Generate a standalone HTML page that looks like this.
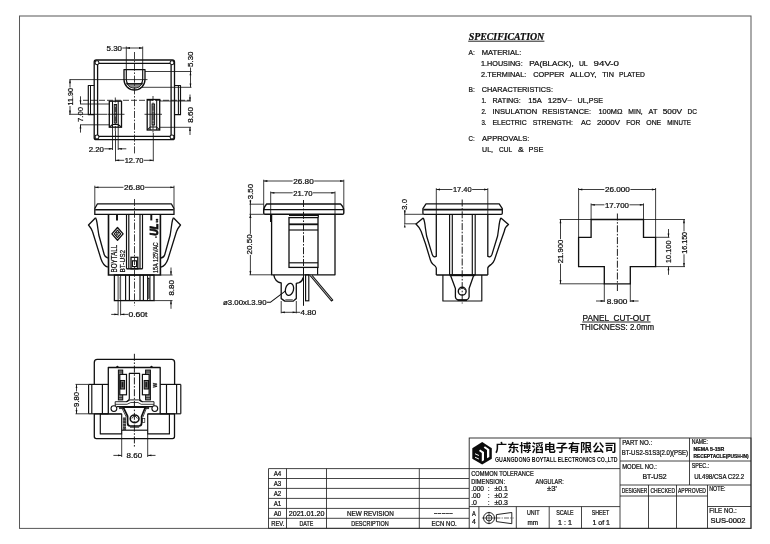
<!DOCTYPE html>
<html lang="zh"><head><meta charset="utf-8"><title>BT-US2 NEMA 5-15R Receptacle Drawing</title>
<style>
html,body{margin:0;padding:0;background:#fff;}
body{width:770px;height:544px;overflow:hidden;}
svg{display:block;font-family:"Liberation Sans","Noto Sans CJK SC",sans-serif;filter:grayscale(1);}
svg text{stroke:#101010;stroke-width:0.24px;}
</style></head><body>
<svg width="770" height="544" viewBox="0 0 770 544">
<rect x="0" y="0" width="770" height="544" fill="#ffffff"/>
<rect x="19.50" y="16.00" width="731.50" height="512.40" stroke="#585858" stroke-width="1.01" fill="none"/>
<line x1="268.5" y1="468.6" x2="469" y2="468.6" stroke="#262626" stroke-width="0.86"/>
<line x1="268.5" y1="478.5" x2="469" y2="478.5" stroke="#262626" stroke-width="0.86"/>
<line x1="268.5" y1="488.4" x2="469" y2="488.4" stroke="#262626" stroke-width="0.86"/>
<line x1="268.5" y1="498.4" x2="469" y2="498.4" stroke="#262626" stroke-width="0.86"/>
<line x1="268.5" y1="508.4" x2="469" y2="508.4" stroke="#262626" stroke-width="0.86"/>
<line x1="268.5" y1="518.3" x2="469" y2="518.3" stroke="#262626" stroke-width="0.86"/>
<line x1="268.5" y1="528.3" x2="469" y2="528.3" stroke="#262626" stroke-width="0.86"/>
<line x1="268.5" y1="468.6" x2="268.5" y2="528.3" stroke="#262626" stroke-width="0.86"/>
<line x1="286.5" y1="468.6" x2="286.5" y2="528.3" stroke="#262626" stroke-width="0.86"/>
<line x1="326.5" y1="468.6" x2="326.5" y2="528.3" stroke="#262626" stroke-width="0.86"/>
<line x1="419.3" y1="468.6" x2="419.3" y2="528.3" stroke="#262626" stroke-width="0.86"/>
<text x="273.7" y="476" font-size="6.9" fill="#101010" xml:space="preserve" textLength="7.60" lengthAdjust="spacingAndGlyphs">A4</text>
<text x="273.7" y="486" font-size="6.9" fill="#101010" xml:space="preserve" textLength="7.60" lengthAdjust="spacingAndGlyphs">A3</text>
<text x="273.7" y="496" font-size="6.9" fill="#101010" xml:space="preserve" textLength="7.60" lengthAdjust="spacingAndGlyphs">A2</text>
<text x="273.7" y="506" font-size="6.9" fill="#101010" xml:space="preserve" textLength="7.60" lengthAdjust="spacingAndGlyphs">A1</text>
<text x="273.7" y="516" font-size="6.9" fill="#101010" xml:space="preserve" textLength="7.60" lengthAdjust="spacingAndGlyphs">A0</text>
<text x="271.2" y="526" font-size="6.9" fill="#101010" xml:space="preserve" textLength="13.20" lengthAdjust="spacingAndGlyphs">REV.</text>
<text x="288.7" y="516" font-size="6.9" fill="#101010" xml:space="preserve" textLength="35.80" lengthAdjust="spacingAndGlyphs">2021.01.20</text>
<text x="299.5" y="526" font-size="6.9" fill="#101010" xml:space="preserve" textLength="13.80" lengthAdjust="spacingAndGlyphs">DATE</text>
<text x="347" y="516" font-size="6.9" fill="#101010" xml:space="preserve" textLength="46.80" lengthAdjust="spacingAndGlyphs">NEW REVISION</text>
<text x="351.2" y="526" font-size="6.9" fill="#101010" xml:space="preserve" textLength="37.60" lengthAdjust="spacingAndGlyphs">DESCRIPTION</text>
<text x="433.7" y="515.2" font-size="6.9" fill="#101010" xml:space="preserve" textLength="19.30" lengthAdjust="spacingAndGlyphs">-----</text>
<text x="431.5" y="525.8" font-size="6.9" fill="#101010" xml:space="preserve" textLength="25.30" lengthAdjust="spacingAndGlyphs">ECN NO.</text>
<rect x="469.20" y="438.00" width="281.80" height="90.30" stroke="#262626" stroke-width="0.92" fill="none"/>
<line x1="469" y1="468.6" x2="620" y2="468.6" stroke="#262626" stroke-width="0.86"/>
<line x1="469" y1="506.6" x2="620" y2="506.6" stroke="#262626" stroke-width="0.86"/>
<line x1="620" y1="438" x2="620" y2="528.3" stroke="#262626" stroke-width="0.86"/>
<line x1="478.9" y1="506.6" x2="478.9" y2="528.3" stroke="#262626" stroke-width="0.86"/>
<line x1="516.3" y1="506.6" x2="516.3" y2="528.3" stroke="#262626" stroke-width="0.86"/>
<line x1="549.2" y1="506.6" x2="549.2" y2="528.3" stroke="#262626" stroke-width="0.86"/>
<line x1="581.5" y1="506.6" x2="581.5" y2="528.3" stroke="#262626" stroke-width="0.86"/>
<line x1="620" y1="461" x2="751" y2="461" stroke="#262626" stroke-width="0.86"/>
<line x1="620" y1="485" x2="751" y2="485" stroke="#262626" stroke-width="0.86"/>
<line x1="689.5" y1="438" x2="689.5" y2="485" stroke="#262626" stroke-width="0.86"/>
<line x1="620" y1="496" x2="707.5" y2="496" stroke="#262626" stroke-width="0.86"/>
<line x1="648.5" y1="485" x2="648.5" y2="528.3" stroke="#262626" stroke-width="0.86"/>
<line x1="676.5" y1="485" x2="676.5" y2="528.3" stroke="#262626" stroke-width="0.86"/>
<line x1="707.5" y1="485" x2="707.5" y2="528.3" stroke="#262626" stroke-width="0.86"/>
<line x1="707.5" y1="506.5" x2="751" y2="506.5" stroke="#262626" stroke-width="0.86"/>
<polygon points="482.2,442.1 491.8,448.2 491.8,458.7 482.2,464.5 472.3,458.7 472.3,448.2" fill="#0b0b0b"/>
<polygon points="479.0,450.9 480.1,449.4 484.0,452.0 484.0,460.2 481.8,461.5 481.8,453.0" fill="#fff"/>
<polygon points="483.7,447.7 484.9,446.2 489.3,449.3 489.3,457.0 487.0,458.3 487.0,450.1" fill="#fff"/>
<polygon points="475.0,453.3 478.9,455.1 478.9,456.1 475.0,454.3" fill="#fff"/>
<polygon points="475.0,456.7 478.9,458.6 478.9,459.6 475.0,457.7" fill="#fff"/>
<text x="495" y="452.3" font-size="11.6" fill="#0b0b0b" xml:space="preserve" textLength="121.60" lengthAdjust="spacingAndGlyphs" font-weight="bold" font-family="'Liberation Sans','Noto Sans CJK SC',sans-serif" style="stroke:none">广东博滔电子有限公司</text>
<text x="495" y="461.7" font-size="6.3" fill="#0b0b0b" xml:space="preserve" textLength="122.60" lengthAdjust="spacingAndGlyphs" font-weight="bold" style="stroke:none">GUANGDONG BOYTALL ELECTRONICS CO.,LTD</text>
<text x="471.2" y="475.6" font-size="6.9" fill="#101010" xml:space="preserve" textLength="62.50" lengthAdjust="spacingAndGlyphs">COMMON TOLERANCE</text>
<text x="471.2" y="483.9" font-size="6.9" fill="#101010" xml:space="preserve" textLength="33.80" lengthAdjust="spacingAndGlyphs">DIMENSION:</text>
<text x="535.5" y="483.9" font-size="6.9" fill="#101010" xml:space="preserve" textLength="28.20" lengthAdjust="spacingAndGlyphs">ANGULAR:</text>
<text x="471.2" y="491.3" font-size="6.9" fill="#101010" xml:space="preserve" textLength="12.80" lengthAdjust="spacingAndGlyphs">.000</text>
<text x="487.8" y="491.3" font-size="6.9" fill="#101010" xml:space="preserve">:</text>
<text x="494.5" y="491.3" font-size="6.9" fill="#101010" xml:space="preserve" textLength="13.50" lengthAdjust="spacingAndGlyphs">±0.1</text>
<text x="547" y="491.3" font-size="6.9" fill="#101010" xml:space="preserve" textLength="10.00" lengthAdjust="spacingAndGlyphs">±3'</text>
<text x="471.2" y="498.2" font-size="6.9" fill="#101010" xml:space="preserve" textLength="9.30" lengthAdjust="spacingAndGlyphs">.00</text>
<text x="487.8" y="498.2" font-size="6.9" fill="#101010" xml:space="preserve">:</text>
<text x="494.5" y="498.2" font-size="6.9" fill="#101010" xml:space="preserve" textLength="13.50" lengthAdjust="spacingAndGlyphs">±0.2</text>
<text x="471.2" y="505.1" font-size="6.9" fill="#101010" xml:space="preserve" textLength="5.80" lengthAdjust="spacingAndGlyphs">.0</text>
<text x="487.8" y="505.1" font-size="6.9" fill="#101010" xml:space="preserve">:</text>
<text x="494.5" y="505.1" font-size="6.9" fill="#101010" xml:space="preserve" textLength="13.50" lengthAdjust="spacingAndGlyphs">±0.3</text>
<text x="472" y="516" font-size="6.9" fill="#101010" xml:space="preserve" textLength="3.80" lengthAdjust="spacingAndGlyphs">A</text>
<text x="472" y="523.6" font-size="6.9" fill="#101010" xml:space="preserve" textLength="3.80" lengthAdjust="spacingAndGlyphs">4</text>
<circle cx="489" cy="518" r="5.5" stroke="#101010" stroke-width="0.91" fill="none"/>
<circle cx="489" cy="518" r="2.9" stroke="#101010" stroke-width="0.91" fill="none"/>
<line x1="481.9" y1="518" x2="495.2" y2="518" stroke="#101010" stroke-width="0.65"/>
<line x1="489" y1="511.8" x2="489" y2="524.2" stroke="#101010" stroke-width="0.65"/>
<path d="M496.4,514.6 L511.8,512.5 L511.8,523.7 L496.4,521.6 Z" stroke="#101010" stroke-width="0.91" fill="none" stroke-linejoin="round"/>
<line x1="495.4" y1="518" x2="513.6" y2="518" stroke="#101010" stroke-width="0.65" stroke-dasharray="5 1.2 1.2 1.2"/>
<text x="527" y="515" font-size="6.9" fill="#101010" xml:space="preserve" textLength="12.50" lengthAdjust="spacingAndGlyphs">UNIT</text>
<text x="527.5" y="525" font-size="6.9" fill="#101010" xml:space="preserve" textLength="10.50" lengthAdjust="spacingAndGlyphs">mm</text>
<text x="556.2" y="515" font-size="6.9" fill="#101010" xml:space="preserve" textLength="17.50" lengthAdjust="spacingAndGlyphs">SCALE</text>
<text x="558" y="525" font-size="6.9" fill="#101010" xml:space="preserve" textLength="14.00" lengthAdjust="spacingAndGlyphs">1 : 1</text>
<text x="591.7" y="515" font-size="6.9" fill="#101010" xml:space="preserve" textLength="17.50" lengthAdjust="spacingAndGlyphs">SHEET</text>
<text x="592.5" y="525" font-size="6.9" fill="#101010" xml:space="preserve" textLength="17.50" lengthAdjust="spacingAndGlyphs">1 of 1</text>
<text x="622.2" y="445" font-size="6.9" fill="#101010" xml:space="preserve" textLength="30.00" lengthAdjust="spacingAndGlyphs">PART NO.:</text>
<text x="621.7" y="455.3" font-size="6.9" fill="#101010" xml:space="preserve" textLength="66.30" lengthAdjust="spacingAndGlyphs">BT-US2-S1S3(2.0)(PSE)</text>
<text x="691.7" y="444.3" font-size="6.9" fill="#101010" xml:space="preserve" textLength="16.30" lengthAdjust="spacingAndGlyphs">NAME:</text>
<text x="693.5" y="451.1" font-size="4.9" fill="#101010" xml:space="preserve" textLength="30.70" lengthAdjust="spacingAndGlyphs" font-weight="bold">NEMA 5-15R</text>
<text x="693.5" y="457.6" font-size="4.9" fill="#101010" xml:space="preserve" textLength="55.20" lengthAdjust="spacingAndGlyphs" font-weight="bold">RECEPTACLE(PUSH-IN)</text>
<text x="622.2" y="469.3" font-size="6.9" fill="#101010" xml:space="preserve" textLength="34.60" lengthAdjust="spacingAndGlyphs">MODEL NO.:</text>
<text x="642.5" y="478.8" font-size="6.9" fill="#101010" xml:space="preserve" textLength="24.20" lengthAdjust="spacingAndGlyphs">BT-US2</text>
<text x="691.7" y="468" font-size="6.9" fill="#101010" xml:space="preserve" textLength="17.50" lengthAdjust="spacingAndGlyphs">SPEC.:</text>
<text x="694.2" y="478.5" font-size="6.9" fill="#101010" xml:space="preserve" textLength="50.00" lengthAdjust="spacingAndGlyphs">UL498/CSA C22.2</text>
<text x="621.7" y="493" font-size="6.9" fill="#101010" xml:space="preserve" textLength="25.50" lengthAdjust="spacingAndGlyphs">DESIGNER</text>
<text x="650.5" y="493" font-size="6.9" fill="#101010" xml:space="preserve" textLength="24.50" lengthAdjust="spacingAndGlyphs">CHECKED</text>
<text x="678" y="493" font-size="6.9" fill="#101010" xml:space="preserve" textLength="28.00" lengthAdjust="spacingAndGlyphs">APPROVED</text>
<text x="709.2" y="491.3" font-size="6.9" fill="#101010" xml:space="preserve" textLength="16.30" lengthAdjust="spacingAndGlyphs">NOTE:</text>
<text x="709.2" y="512.6" font-size="6.9" fill="#101010" xml:space="preserve" textLength="27.50" lengthAdjust="spacingAndGlyphs">FILE NO.:</text>
<text x="710.5" y="523" font-size="6.9" fill="#101010" xml:space="preserve" textLength="35.00" lengthAdjust="spacingAndGlyphs">SUS-0002</text>
<text x="468.7" y="39.6" font-size="10.3" fill="#0b0b0b" xml:space="preserve" textLength="75.50" lengthAdjust="spacingAndGlyphs" font-weight="bold" font-style="italic" font-family="'Liberation Serif',serif">SPECIFICATION</text>
<line x1="468.2" y1="41.2" x2="544.4" y2="41.2" stroke="#0b0b0b" stroke-width="0.91"/>
<text x="468.5" y="54.5" font-size="7.9" fill="#101010" xml:space="preserve" textLength="6.30" lengthAdjust="spacingAndGlyphs">A:</text>
<text x="481.8" y="54.5" font-size="7.9" fill="#101010" xml:space="preserve" textLength="39.50" lengthAdjust="spacingAndGlyphs">MATERIAL:</text>
<text x="481.1" y="65.8" font-size="7.9" fill="#101010" xml:space="preserve" textLength="41.60" lengthAdjust="spacingAndGlyphs">1.HOUSING:</text>
<text x="529.3" y="65.8" font-size="7.9" fill="#101010" xml:space="preserve" textLength="44.40" lengthAdjust="spacingAndGlyphs">PA(BLACK),</text>
<text x="578.9" y="65.8" font-size="7.9" fill="#101010" xml:space="preserve" textLength="8.80" lengthAdjust="spacingAndGlyphs">UL</text>
<text x="593.6" y="65.8" font-size="7.9" fill="#101010" xml:space="preserve" textLength="25.40" lengthAdjust="spacingAndGlyphs">94V-0</text>
<text x="481.1" y="77.2" font-size="7.9" fill="#101010" xml:space="preserve" textLength="45.20" lengthAdjust="spacingAndGlyphs">2.TERMINAL:</text>
<text x="533.3" y="77.2" font-size="7.9" fill="#101010" xml:space="preserve" textLength="31.10" lengthAdjust="spacingAndGlyphs">COPPER</text>
<text x="570" y="77.2" font-size="7.9" fill="#101010" xml:space="preserve" textLength="26.40" lengthAdjust="spacingAndGlyphs">ALLOY,</text>
<text x="602.2" y="77.2" font-size="7.9" fill="#101010" xml:space="preserve" textLength="11.70" lengthAdjust="spacingAndGlyphs">TIN</text>
<text x="619" y="77.2" font-size="7.9" fill="#101010" xml:space="preserve" textLength="25.80" lengthAdjust="spacingAndGlyphs">PLATED</text>
<text x="468.5" y="91.8" font-size="7.9" fill="#101010" xml:space="preserve" textLength="6.30" lengthAdjust="spacingAndGlyphs">B:</text>
<text x="481.8" y="91.8" font-size="7.9" fill="#101010" xml:space="preserve" textLength="71.20" lengthAdjust="spacingAndGlyphs">CHARACTERISTICS:</text>
<text x="481.4" y="102.8" font-size="7.9" fill="#101010" xml:space="preserve" textLength="5.10" lengthAdjust="spacingAndGlyphs">1.</text>
<text x="492.4" y="102.8" font-size="7.9" fill="#101010" xml:space="preserve" textLength="28.40" lengthAdjust="spacingAndGlyphs">RATING:</text>
<text x="528.3" y="102.8" font-size="7.9" fill="#101010" xml:space="preserve" textLength="13.40" lengthAdjust="spacingAndGlyphs">15A</text>
<text x="547.7" y="102.8" font-size="7.9" fill="#101010" xml:space="preserve" textLength="24.50" lengthAdjust="spacingAndGlyphs">125V~</text>
<text x="577.6" y="102.8" font-size="7.9" fill="#101010" xml:space="preserve" textLength="25.40" lengthAdjust="spacingAndGlyphs">UL,PSE</text>
<text x="481.4" y="113.8" font-size="7.9" fill="#101010" xml:space="preserve" textLength="5.10" lengthAdjust="spacingAndGlyphs">2.</text>
<text x="492.4" y="113.8" font-size="7.9" fill="#101010" xml:space="preserve" textLength="44.80" lengthAdjust="spacingAndGlyphs">INSULATION</text>
<text x="542.3" y="113.8" font-size="7.9" fill="#101010" xml:space="preserve" textLength="48.70" lengthAdjust="spacingAndGlyphs">RESISTANCE:</text>
<text x="598.5" y="113.8" font-size="7.9" fill="#101010" xml:space="preserve" textLength="23.90" lengthAdjust="spacingAndGlyphs">100MΩ</text>
<text x="628.3" y="113.8" font-size="7.9" fill="#101010" xml:space="preserve" textLength="14.40" lengthAdjust="spacingAndGlyphs">MIN,</text>
<text x="648.6" y="113.8" font-size="7.9" fill="#101010" xml:space="preserve" textLength="8.70" lengthAdjust="spacingAndGlyphs">AT</text>
<text x="662.7" y="113.8" font-size="7.9" fill="#101010" xml:space="preserve" textLength="19.40" lengthAdjust="spacingAndGlyphs">500V</text>
<text x="687.5" y="113.8" font-size="7.9" fill="#101010" xml:space="preserve" textLength="9.50" lengthAdjust="spacingAndGlyphs">DC</text>
<text x="481.4" y="125" font-size="7.9" fill="#101010" xml:space="preserve" textLength="5.10" lengthAdjust="spacingAndGlyphs">3.</text>
<text x="492.4" y="125" font-size="7.9" fill="#101010" xml:space="preserve" textLength="34.40" lengthAdjust="spacingAndGlyphs">ELECTRIC</text>
<text x="532.7" y="125" font-size="7.9" fill="#101010" xml:space="preserve" textLength="40.30" lengthAdjust="spacingAndGlyphs">STRENGTH:</text>
<text x="581" y="125" font-size="7.9" fill="#101010" xml:space="preserve" textLength="10.00" lengthAdjust="spacingAndGlyphs">AC</text>
<text x="597" y="125" font-size="7.9" fill="#101010" xml:space="preserve" textLength="23.00" lengthAdjust="spacingAndGlyphs">2000V</text>
<text x="626.2" y="125" font-size="7.9" fill="#101010" xml:space="preserve" textLength="14.10" lengthAdjust="spacingAndGlyphs">FOR</text>
<text x="646.3" y="125" font-size="7.9" fill="#101010" xml:space="preserve" textLength="14.90" lengthAdjust="spacingAndGlyphs">ONE</text>
<text x="667.2" y="125" font-size="7.9" fill="#101010" xml:space="preserve" textLength="23.80" lengthAdjust="spacingAndGlyphs">MINUTE</text>
<text x="468.6" y="140.8" font-size="7.9" fill="#101010" xml:space="preserve" textLength="6.20" lengthAdjust="spacingAndGlyphs">C:</text>
<text x="482.1" y="140.8" font-size="7.9" fill="#101010" xml:space="preserve" textLength="47.20" lengthAdjust="spacingAndGlyphs">APPROVALS:</text>
<text x="482.1" y="152.1" font-size="7.9" fill="#101010" xml:space="preserve" textLength="10.90" lengthAdjust="spacingAndGlyphs">UL,</text>
<text x="499" y="152.1" font-size="7.9" fill="#101010" xml:space="preserve" textLength="13.20" lengthAdjust="spacingAndGlyphs">CUL</text>
<text x="518.1" y="152.1" font-size="7.9" fill="#101010" xml:space="preserve" textLength="5.80" lengthAdjust="spacingAndGlyphs">&amp;</text>
<text x="528.6" y="152.1" font-size="7.9" fill="#101010" xml:space="preserve" textLength="14.80" lengthAdjust="spacingAndGlyphs">PSE</text>
<path d="M96.2,60 L172.5,60 A2,2 0 0 1 174.5,62 L174.5,137.7 A2,2 0 0 1 172.5,139.7 L96.2,139.7 A2,2 0 0 1 94.2,137.7 L94.2,62 A2,2 0 0 1 96.2,60 Z" stroke="#101010" stroke-width="1.30" fill="none" stroke-linejoin="round"/>
<path d="M98.8,63.4 L170.2,63.4 M171.1,64.6 L171.1,135.2 M170.2,136.4 L98.8,136.4 M97.6,135.2 L97.6,64.6" stroke="#101010" stroke-width="1.30" fill="none" stroke-linejoin="round"/>
<circle cx="97" cy="62.7" r="1.95" stroke="#101010" stroke-width="1.04" fill="#fff"/>
<circle cx="172" cy="62.7" r="1.95" stroke="#101010" stroke-width="1.04" fill="#fff"/>
<circle cx="97" cy="137" r="1.95" stroke="#101010" stroke-width="1.04" fill="#fff"/>
<circle cx="172" cy="137" r="1.95" stroke="#101010" stroke-width="1.04" fill="#fff"/>
<path d="M94.2,85.5 L88.3,85.5 L88.3,114.7 L94.2,114.7" stroke="#101010" stroke-width="1.17" fill="none" stroke-linejoin="round"/>
<line x1="90.5" y1="85.5" x2="90.5" y2="114.7" stroke="#101010" stroke-width="1.04"/>
<path d="M174.5,85.5 L180.5,85.5 L180.5,114.7 L174.5,114.7" stroke="#101010" stroke-width="1.17" fill="none" stroke-linejoin="round"/>
<line x1="178.4" y1="85.5" x2="178.4" y2="114.7" stroke="#101010" stroke-width="1.04"/>
<path d="M124,69.6 L145,69.6 L145,79.5 A10.5,10.5 0 0 1 124,79.5 Z" stroke="#101010" stroke-width="1.30" fill="none" stroke-linejoin="round"/>
<path d="M126.3,69.6 L126.3,79.5 A8.2,8.2 0 0 0 142.7,79.5 L142.7,69.6" stroke="#101010" stroke-width="1.17" fill="none" stroke-linejoin="round"/>
<path d="M127.2,83.7 L141.8,83.7 A8.2,8.2 0 0 1 127.2,83.7 Z" stroke="#101010" stroke-width="0.78" fill="#8a8a8a" stroke-linejoin="round"/>
<line x1="126.3" y1="83.7" x2="142.7" y2="83.7" stroke="#101010" stroke-width="1.17"/>
<rect x="109.30" y="101.20" width="12.20" height="26.00" stroke="#101010" stroke-width="1.30" fill="none"/>
<path d="M112.5,101.2 L112.5,127.2 M118.2,101.2 L118.2,127.2 M109.3,127.2 L112.5,124.5 L118.2,124.5 L121.5,127.2" stroke="#101010" stroke-width="1.04" fill="none" stroke-linejoin="round"/>
<rect x="114.20" y="104.50" width="2.40" height="18.50" stroke="#101010" stroke-width="0.91" fill="#9a9a9a"/>
<rect x="147.20" y="99.50" width="12.50" height="30.50" stroke="#101010" stroke-width="1.30" fill="none"/>
<path d="M150.1,99.5 L150.1,130 M156.7,99.5 L156.7,130 M147.2,130 L150.1,127 L156.7,127 L159.7,130" stroke="#101010" stroke-width="1.04" fill="none" stroke-linejoin="round"/>
<rect x="152.00" y="104.00" width="2.60" height="21.00" stroke="#101010" stroke-width="0.91" fill="#9a9a9a"/>
<line x1="134.5" y1="52" x2="134.5" y2="155" stroke="#101010" stroke-width="0.81" stroke-dasharray="7 1.6 1.6 1.6"/>
<line x1="83" y1="100.3" x2="190" y2="100.3" stroke="#101010" stroke-width="0.81" stroke-dasharray="6 2"/>
<line x1="107.5" y1="114.3" x2="124.5" y2="114.3" stroke="#101010" stroke-width="0.81"/>
<line x1="144.5" y1="114.3" x2="162" y2="114.3" stroke="#101010" stroke-width="0.81"/>
<line x1="115.3" y1="97.5" x2="115.3" y2="131" stroke="#101010" stroke-width="0.81" stroke-dasharray="5 1.5 1.5 1.5"/>
<line x1="153" y1="96" x2="153" y2="133" stroke="#101010" stroke-width="0.81" stroke-dasharray="5 1.5 1.5 1.5"/>
<line x1="126.3" y1="46.5" x2="126.3" y2="69.6" stroke="#101010" stroke-width="0.81"/>
<line x1="142.7" y1="46.5" x2="142.7" y2="69.6" stroke="#101010" stroke-width="0.81"/>
<line x1="122.3" y1="48" x2="142.7" y2="48" stroke="#101010" stroke-width="0.81"/>
<polygon points="126.30,48.00 130.00,47.10 130.00,48.90" fill="#101010"/>
<polygon points="142.70,48.00 139.00,48.90 139.00,47.10" fill="#101010"/>
<text x="106.5" y="50.8" font-size="7.4" fill="#101010" xml:space="preserve" textLength="15.50" lengthAdjust="spacingAndGlyphs">5.30</text>
<line x1="145" y1="71.5" x2="191.5" y2="71.5" stroke="#101010" stroke-width="0.81"/>
<line x1="142" y1="87.3" x2="191.5" y2="87.3" stroke="#101010" stroke-width="0.81"/>
<line x1="190.5" y1="67.5" x2="190.5" y2="87.3" stroke="#101010" stroke-width="0.81"/>
<polygon points="190.50,71.50 191.40,75.20 189.60,75.20" fill="#101010"/>
<polygon points="190.50,87.30 189.60,83.60 191.40,83.60" fill="#101010"/>
<text x="0" y="0" font-size="7.4" fill="#101010" xml:space="preserve" textLength="15.50" lengthAdjust="spacingAndGlyphs" transform="translate(192.5492 67) rotate(-90)">5.30</text>
<line x1="159.7" y1="101" x2="191" y2="101" stroke="#101010" stroke-width="0.81"/>
<line x1="159.7" y1="127.3" x2="191" y2="127.3" stroke="#101010" stroke-width="0.81"/>
<line x1="190" y1="94.5" x2="190" y2="101" stroke="#101010" stroke-width="0.81"/>
<polygon points="190.00,101.00 189.10,97.30 190.90,97.30" fill="#101010"/>
<line x1="190" y1="127.3" x2="190" y2="135" stroke="#101010" stroke-width="0.81"/>
<polygon points="190.00,127.30 190.90,131.00 189.10,131.00" fill="#101010"/>
<text x="0" y="0" font-size="7.4" fill="#101010" xml:space="preserve" textLength="15.70" lengthAdjust="spacingAndGlyphs" transform="translate(192.6492 122.7) rotate(-90)">8.60</text>
<line x1="69.5" y1="79.6" x2="147.5" y2="79.6" stroke="#101010" stroke-width="0.81"/>
<line x1="69" y1="114.3" x2="107" y2="114.3" stroke="#101010" stroke-width="0.81"/>
<line x1="70" y1="79.6" x2="70" y2="87.5" stroke="#101010" stroke-width="0.81"/>
<line x1="70" y1="106.0" x2="70" y2="114.3" stroke="#101010" stroke-width="0.81"/>
<polygon points="70.00,79.60 70.90,83.30 69.10,83.30" fill="#101010"/>
<polygon points="70.00,114.30 69.10,110.60 70.90,110.60" fill="#101010"/>
<text x="0" y="0" font-size="7.4" fill="#101010" xml:space="preserve" textLength="17.50" lengthAdjust="spacingAndGlyphs" transform="translate(73.0492 105.5) rotate(-90)">11.90</text>
<line x1="80" y1="104" x2="109.3" y2="104" stroke="#101010" stroke-width="0.81"/>
<line x1="80" y1="124.8" x2="109.3" y2="124.8" stroke="#101010" stroke-width="0.81"/>
<line x1="80.5" y1="96.3" x2="80.5" y2="104" stroke="#101010" stroke-width="0.81"/>
<polygon points="80.50,104.00 79.60,100.30 81.40,100.30" fill="#101010"/>
<line x1="80.5" y1="124.8" x2="80.5" y2="132.6" stroke="#101010" stroke-width="0.81"/>
<polygon points="80.50,124.80 81.40,128.50 79.60,128.50" fill="#101010"/>
<text x="0" y="0" font-size="7.4" fill="#101010" xml:space="preserve" textLength="15.00" lengthAdjust="spacingAndGlyphs" transform="translate(83.44919999999999 122) rotate(-90)">7.00</text>
<line x1="112.5" y1="127.2" x2="112.5" y2="150" stroke="#101010" stroke-width="0.81"/>
<line x1="118.2" y1="127.2" x2="118.2" y2="150" stroke="#101010" stroke-width="0.81"/>
<line x1="104.3" y1="148.8" x2="112.5" y2="148.8" stroke="#101010" stroke-width="0.81"/>
<polygon points="112.50,148.80 108.80,149.70 108.80,147.90" fill="#101010"/>
<line x1="118.2" y1="148.8" x2="126.3" y2="148.8" stroke="#101010" stroke-width="0.81"/>
<polygon points="118.20,148.80 121.90,147.90 121.90,149.70" fill="#101010"/>
<text x="88.7" y="151.5" font-size="7.4" fill="#101010" xml:space="preserve" textLength="15.30" lengthAdjust="spacingAndGlyphs">2.20</text>
<line x1="115.5" y1="131" x2="115.5" y2="161.3" stroke="#101010" stroke-width="0.81"/>
<line x1="153.3" y1="133" x2="153.3" y2="161.3" stroke="#101010" stroke-width="0.81"/>
<line x1="115.5" y1="160.3" x2="124.2" y2="160.3" stroke="#101010" stroke-width="0.81"/>
<line x1="144.0" y1="160.3" x2="153.3" y2="160.3" stroke="#101010" stroke-width="0.81"/>
<polygon points="115.50,160.30 119.20,159.40 119.20,161.20" fill="#101010"/>
<polygon points="153.30,160.30 149.60,161.20 149.60,159.40" fill="#101010"/>
<text x="124.7" y="163" font-size="7.4" fill="#101010" xml:space="preserve" textLength="18.80" lengthAdjust="spacingAndGlyphs">12.70</text>
<path d="M97.5,203.8 L171.3,203.8 L174,208.5 L174,214.4 L94.8,214.4 L94.8,208.5 Z" stroke="#101010" stroke-width="1.30" fill="none" stroke-linejoin="round"/>
<line x1="95.2" y1="209.8" x2="173.6" y2="209.8" stroke="#101010" stroke-width="1.56"/>
<path d="M108.5,214.4 L108.5,275 L160.4,275 L160.4,214.4" stroke="#101010" stroke-width="1.62" fill="none" stroke-linejoin="miter"/>
<line x1="126.5" y1="214.4" x2="126.5" y2="268.8" stroke="#101010" stroke-width="1.17"/>
<line x1="128.8" y1="214.4" x2="128.8" y2="268.8" stroke="#101010" stroke-width="1.17"/>
<line x1="140" y1="214.4" x2="140" y2="268.8" stroke="#101010" stroke-width="1.17"/>
<line x1="142.5" y1="214.4" x2="142.5" y2="268.8" stroke="#101010" stroke-width="1.17"/>
<line x1="126.5" y1="268.8" x2="142.5" y2="268.8" stroke="#101010" stroke-width="1.43"/>
<rect x="131.00" y="257.30" width="6.80" height="11.50" stroke="#101010" stroke-width="1.30" fill="none"/>
<rect x="132.40" y="260.80" width="4.20" height="5.80" stroke="#101010" stroke-width="1.17" fill="none"/>
<line x1="117" y1="214.4" x2="117" y2="220.4" stroke="#101010" stroke-width="1.95"/>
<line x1="151.3" y1="214.4" x2="151.3" y2="220.4" stroke="#101010" stroke-width="1.95"/>
<path d="M95.6,217.8 L88.5,225 C90.5,227.5 91.8,229 92.5,231.5 L101,259 C102.5,263.5 104.5,266 107.8,267.2" stroke="#101010" stroke-width="1.30" fill="none" stroke-linejoin="round"/>
<path d="M95.6,217.8 C96.4,219.5 96.8,221 97,222.6 L98.8,235 L104.2,254.5 C104.8,256.6 106,257.6 107.8,258" stroke="#101010" stroke-width="1.30" fill="none" stroke-linejoin="round"/>
<path d="M173.4,217.8 L180.5,225 C178.5,227.5 177.2,229 176.5,231.5 L168,259 C166.5,263.5 164.5,266 161,267.2" stroke="#101010" stroke-width="1.30" fill="none" stroke-linejoin="round"/>
<path d="M173.4,217.8 C172.6,219.5 172.2,221 172,222.6 L170.2,235 L164.8,254.5 C164.2,256.6 163,257.6 161,258" stroke="#101010" stroke-width="1.30" fill="none" stroke-linejoin="round"/>
<rect x="114.40" y="275.00" width="39.60" height="25.60" stroke="#101010" stroke-width="1.30" fill="none"/>
<line x1="118.1" y1="275" x2="118.1" y2="300.6" stroke="#101010" stroke-width="0.78"/>
<line x1="120.6" y1="275" x2="120.6" y2="300.6" stroke="#101010" stroke-width="0.78"/>
<line x1="125.6" y1="275" x2="125.6" y2="300.6" stroke="#101010" stroke-width="1.17"/>
<line x1="129.4" y1="275" x2="129.4" y2="300.6" stroke="#101010" stroke-width="1.17"/>
<line x1="140" y1="275" x2="140" y2="300.6" stroke="#101010" stroke-width="1.17"/>
<line x1="143.4" y1="275" x2="143.4" y2="300.6" stroke="#101010" stroke-width="1.17"/>
<line x1="147.5" y1="275" x2="147.5" y2="300.6" stroke="#101010" stroke-width="0.91"/>
<line x1="150" y1="275" x2="150" y2="300.6" stroke="#101010" stroke-width="0.91"/>
<rect x="147.90" y="278.00" width="1.70" height="20.50" stroke="#101010" stroke-width="0.52" fill="#777"/>
<line x1="119.3" y1="277" x2="119.3" y2="299" stroke="#777" stroke-width="0.65"/>
<path d="M117.5,227.5 L123.1,233.9 L117.5,240.3 L111.9,233.9 Z" stroke="#101010" stroke-width="1.30" fill="none" stroke-linejoin="round"/>
<path d="M117.5,230.2 L120.7,233.9 L117.5,237.6 L114.3,233.9 Z" stroke="#101010" stroke-width="1.04" fill="none" stroke-linejoin="round"/>
<text x="0" y="0" font-size="3.4" fill="#101010" xml:space="preserve" textLength="3.60" lengthAdjust="spacingAndGlyphs" font-weight="bold" transform="translate(119 235.6) rotate(-90)">PS</text>
<text x="0" y="0" font-size="8.2" fill="#101010" xml:space="preserve" textLength="27.80" lengthAdjust="spacingAndGlyphs" transform="translate(117.2 272.5) rotate(-90)">BOYTALL</text>
<text x="0" y="0" font-size="7.2" fill="#101010" xml:space="preserve" textLength="22.50" lengthAdjust="spacingAndGlyphs" transform="translate(124.7 272.5) rotate(-90)">BT-US2</text>
<text x="0" y="0" font-size="8.0" fill="#101010" xml:space="preserve" textLength="30.80" lengthAdjust="spacingAndGlyphs" transform="translate(157.7 273) rotate(-90)">15A 125VAC</text>
<text x="0" y="0" font-size="10.4" font-weight="bold" font-style="italic" fill="#0b0b0b" textLength="12.2" lengthAdjust="spacingAndGlyphs" style="stroke:#0b0b0b;stroke-width:0.9px" transform="translate(158 235.8) rotate(-90)">UL</text>
<text x="0" y="0" font-size="4" font-weight="bold" fill="#0b0b0b" textLength="3.6" lengthAdjust="spacingAndGlyphs" style="stroke:#0b0b0b;stroke-width:0.4px" transform="translate(158 222.4) rotate(-90)">us</text>
<circle cx="156" cy="237.1" r="0.5" stroke="#101010" stroke-width="0.78" fill="#101010"/>
<line x1="134.5" y1="199" x2="134.5" y2="305.6" stroke="#101010" stroke-width="0.81" stroke-dasharray="7 1.6 1.6 1.6"/>
<line x1="94.8" y1="185.7" x2="94.8" y2="208.5" stroke="#101010" stroke-width="0.81"/>
<line x1="174" y1="185.7" x2="174" y2="208.5" stroke="#101010" stroke-width="0.81"/>
<line x1="94.8" y1="187.3" x2="123.5" y2="187.3" stroke="#101010" stroke-width="0.81"/>
<line x1="145.0" y1="187.3" x2="174" y2="187.3" stroke="#101010" stroke-width="0.81"/>
<polygon points="94.80,187.30 98.50,186.40 98.50,188.20" fill="#101010"/>
<polygon points="174.00,187.30 170.30,188.20 170.30,186.40" fill="#101010"/>
<text x="124" y="190" font-size="7.4" fill="#101010" xml:space="preserve" textLength="20.50" lengthAdjust="spacingAndGlyphs">26.80</text>
<line x1="161" y1="275" x2="172.5" y2="275" stroke="#101010" stroke-width="0.81"/>
<line x1="154" y1="300.6" x2="172.5" y2="300.6" stroke="#101010" stroke-width="0.81"/>
<line x1="171" y1="267.5" x2="171" y2="275" stroke="#101010" stroke-width="0.81"/>
<polygon points="171.00,275.00 170.10,271.30 171.90,271.30" fill="#101010"/>
<line x1="171" y1="300.6" x2="171" y2="308.8" stroke="#101010" stroke-width="0.81"/>
<polygon points="171.00,300.60 171.90,304.30 170.10,304.30" fill="#101010"/>
<text x="0" y="0" font-size="7.4" fill="#101010" xml:space="preserve" textLength="15.60" lengthAdjust="spacingAndGlyphs" transform="translate(173.5492 295.6) rotate(-90)">8.80</text>
<line x1="118.1" y1="300.6" x2="118.1" y2="315.4" stroke="#101010" stroke-width="0.81"/>
<line x1="120.6" y1="300.6" x2="120.6" y2="315.4" stroke="#101010" stroke-width="0.81"/>
<line x1="111.2" y1="314.4" x2="118.1" y2="314.4" stroke="#101010" stroke-width="0.81"/>
<polygon points="118.10,314.40 114.40,315.30 114.40,313.50" fill="#101010"/>
<line x1="120.6" y1="314.4" x2="128.3" y2="314.4" stroke="#101010" stroke-width="0.81"/>
<polygon points="120.60,314.40 124.30,313.50 124.30,315.30" fill="#101010"/>
<text x="128.5" y="317" font-size="7.4" fill="#101010" xml:space="preserve" textLength="19.00" lengthAdjust="spacingAndGlyphs">0.60t</text>
<path d="M266.6,204 L340.6,204 C342.2,205.5 343.3,207.3 343.8,209.5 L343.8,213 C343.8,213.8 343.3,214.3 342.5,214.3 L265,214.3 C264.2,214.3 263.7,213.8 263.7,213 L263.7,209.5 C264.3,207.3 265.2,205.5 266.6,204 Z" stroke="#101010" stroke-width="1.43" fill="none" stroke-linejoin="round"/>
<line x1="264" y1="209.6" x2="343.6" y2="209.6" stroke="#101010" stroke-width="1.43"/>
<path d="M271.6,214.3 L271.6,274.8 L335,274.8 L335,214.3" stroke="#101010" stroke-width="1.30" fill="none" stroke-linejoin="round"/>
<line x1="270.6" y1="214.3" x2="270.6" y2="222" stroke="#101010" stroke-width="1.17"/>
<line x1="289" y1="215.4" x2="318.3" y2="215.4" stroke="#101010" stroke-width="1.17"/>
<line x1="318.3" y1="214.3" x2="318.3" y2="217.6" stroke="#101010" stroke-width="1.17"/>
<rect x="289.00" y="217.60" width="29.00" height="49.80" stroke="#101010" stroke-width="1.30" fill="none"/>
<line x1="289" y1="224.3" x2="318" y2="224.3" stroke="#101010" stroke-width="1.82"/>
<line x1="289" y1="230" x2="318" y2="230" stroke="#101010" stroke-width="1.17"/>
<line x1="289" y1="262.8" x2="318" y2="262.8" stroke="#101010" stroke-width="1.17"/>
<line x1="317.6" y1="267.4" x2="317.6" y2="274.8" stroke="#101010" stroke-width="1.17"/>
<line x1="303.5" y1="200" x2="303.5" y2="305.8" stroke="#101010" stroke-width="0.94" stroke-dasharray="7 1.6 1.6 1.6"/>
<line x1="303.5" y1="267.4" x2="303.5" y2="305.8" stroke="#101010" stroke-width="1.04"/>
<rect x="305.60" y="274.80" width="3.20" height="26.00" stroke="#101010" stroke-width="1.17" fill="none"/>
<path d="M309.6,275 L331.4,301 L332.8,300 L311.8,275" stroke="#101010" stroke-width="1.04" fill="#bbb" stroke-linejoin="round"/>
<path d="M273.8,274.8 C274.5,279.5 277.5,282.2 281.2,283 L281.2,298.6 C282.3,299.2 283.5,300.2 284.8,301.2 L293.2,301.2 C294.3,300.2 295.3,299.2 296.3,298.6 L296.3,283.3 L299.2,282.6 C301.3,281.8 302.7,280 303.2,277.5" stroke="#101010" stroke-width="1.30" fill="none" stroke-linejoin="round"/>
<line x1="285.3" y1="299.6" x2="292.8" y2="299.6" stroke="#666" stroke-width="0.91"/>
<ellipse cx="289.5" cy="289.4" rx="4.0" ry="6.1" stroke="#101010" stroke-width="1.30" fill="none" transform="rotate(14 289.5 289.4)"/>
<path d="M266.9,302.2 L270.6,302.2 L285.2,291.2" stroke="#101010" stroke-width="1.04" fill="none" stroke-linejoin="round"/>
<text x="223.1" y="304.6" font-size="7.4" fill="#101010" xml:space="preserve" textLength="43.40" lengthAdjust="spacingAndGlyphs">ø3.00xL3.90</text>
<line x1="263.7" y1="179.7" x2="263.7" y2="209" stroke="#101010" stroke-width="0.81"/>
<line x1="343.8" y1="179.7" x2="343.8" y2="209" stroke="#101010" stroke-width="0.81"/>
<line x1="263.7" y1="181" x2="292.7" y2="181" stroke="#101010" stroke-width="0.81"/>
<line x1="314.2" y1="181" x2="343.8" y2="181" stroke="#101010" stroke-width="0.81"/>
<polygon points="263.70,181.00 267.40,180.10 267.40,181.90" fill="#101010"/>
<polygon points="343.80,181.00 340.10,181.90 340.10,180.10" fill="#101010"/>
<text x="293.2" y="183.7" font-size="7.4" fill="#101010" xml:space="preserve" textLength="20.50" lengthAdjust="spacingAndGlyphs">26.80</text>
<line x1="270.7" y1="191.5" x2="270.7" y2="214" stroke="#101010" stroke-width="0.81"/>
<line x1="335" y1="191.5" x2="335" y2="214.3" stroke="#101010" stroke-width="0.81"/>
<line x1="270.7" y1="192.8" x2="292.7" y2="192.8" stroke="#101010" stroke-width="0.81"/>
<line x1="313.0" y1="192.8" x2="335" y2="192.8" stroke="#101010" stroke-width="0.81"/>
<polygon points="270.70,192.80 274.40,191.90 274.40,193.70" fill="#101010"/>
<polygon points="335.00,192.80 331.30,193.70 331.30,191.90" fill="#101010"/>
<text x="293.2" y="195.5" font-size="7.4" fill="#101010" xml:space="preserve" textLength="19.30" lengthAdjust="spacingAndGlyphs">21.70</text>
<line x1="249.5" y1="204.2" x2="263.7" y2="204.2" stroke="#101010" stroke-width="0.81"/>
<line x1="249.5" y1="214.3" x2="263.7" y2="214.3" stroke="#101010" stroke-width="0.81"/>
<line x1="249.5" y1="274.8" x2="271.6" y2="274.8" stroke="#101010" stroke-width="0.81"/>
<line x1="250.4" y1="199.8" x2="250.4" y2="214.3" stroke="#101010" stroke-width="0.81"/>
<polygon points="250.40,204.20 249.50,200.50 251.30,200.50" fill="#101010"/>
<polygon points="250.40,214.30 251.30,218.00 249.50,218.00" fill="#101010"/>
<text x="0" y="0" font-size="7.4" fill="#101010" xml:space="preserve" textLength="15.30" lengthAdjust="spacingAndGlyphs" transform="translate(252.8492 199.2) rotate(-90)">3.50</text>
<line x1="250.4" y1="214.3" x2="250.4" y2="233.9" stroke="#101010" stroke-width="0.81"/>
<line x1="250.4" y1="254.9" x2="250.4" y2="274.8" stroke="#101010" stroke-width="0.81"/>
<polygon points="250.40,214.30 251.30,218.00 249.50,218.00" fill="#101010"/>
<polygon points="250.40,274.80 249.50,271.10 251.30,271.10" fill="#101010"/>
<text x="0" y="0" font-size="7.4" fill="#101010" xml:space="preserve" textLength="20.00" lengthAdjust="spacingAndGlyphs" transform="translate(252.44920000000002 254.4) rotate(-90)">20.50</text>
<line x1="281.2" y1="301" x2="281.2" y2="313.3" stroke="#101010" stroke-width="0.81"/>
<line x1="296.3" y1="301" x2="296.3" y2="313.3" stroke="#101010" stroke-width="0.81"/>
<line x1="281.2" y1="312.3" x2="300.2" y2="312.3" stroke="#101010" stroke-width="0.81"/>
<polygon points="281.20,312.30 284.90,311.40 284.90,313.20" fill="#101010"/>
<polygon points="296.30,312.30 292.60,313.20 292.60,311.40" fill="#101010"/>
<text x="300.6" y="315" font-size="7.4" fill="#101010" xml:space="preserve" textLength="15.60" lengthAdjust="spacingAndGlyphs">4.80</text>
<path d="M426,203.8 L499.2,203.8 L502.3,208.6 L502.3,213.2 C502.3,213.9 501.9,214.3 501.2,214.3 L424,214.3 C423.3,214.3 422.9,213.9 422.9,213.2 L422.9,208.6 Z" stroke="#101010" stroke-width="1.30" fill="none" stroke-linejoin="round"/>
<line x1="423.3" y1="209.6" x2="502" y2="209.6" stroke="#101010" stroke-width="1.56"/>
<line x1="436.3" y1="214.3" x2="436.3" y2="256.8" stroke="#101010" stroke-width="1.30"/>
<line x1="487.8" y1="214.3" x2="487.8" y2="256.8" stroke="#101010" stroke-width="1.30"/>
<line x1="436.3" y1="268" x2="436.3" y2="275" stroke="#101010" stroke-width="1.30"/>
<line x1="487.8" y1="268" x2="487.8" y2="275" stroke="#101010" stroke-width="1.30"/>
<line x1="436.3" y1="275" x2="487.8" y2="275" stroke="#101010" stroke-width="1.30"/>
<line x1="449.6" y1="214.3" x2="449.6" y2="275" stroke="#101010" stroke-width="1.17"/>
<line x1="452.3" y1="214.3" x2="452.3" y2="275" stroke="#101010" stroke-width="1.17"/>
<line x1="472.3" y1="214.3" x2="472.3" y2="275" stroke="#101010" stroke-width="1.17"/>
<line x1="475.2" y1="214.3" x2="475.2" y2="275" stroke="#101010" stroke-width="1.17"/>
<line x1="449.6" y1="275.2" x2="475.2" y2="275.2" stroke="#101010" stroke-width="1.95"/>
<path d="M423.2,217.9 L416,224 C418.8,226.8 420.3,228.8 421,231 L425.4,243.5 L430.4,260 C431,262 431.8,263.3 433,264.3 C434.4,265.4 436.3,266.6 436.3,268" stroke="#101010" stroke-width="1.30" fill="none" stroke-linejoin="round"/>
<path d="M423.2,217.9 C424.3,220 424.9,223 425.3,227.5 L426.6,236 L432.2,254.4 C432.9,256.6 434.6,257.6 436.3,256.3" stroke="#101010" stroke-width="1.30" fill="none" stroke-linejoin="round"/>
<path d="M500.9,217.9 L508.5,224.6 C505.6,226.8 504.6,228.8 504.4,231 L500,243.5 L494.4,260 C493.6,262 492.6,263.3 491.4,264.3 C489.8,265.4 487.8,266.6 487.8,268" stroke="#101010" stroke-width="1.30" fill="none" stroke-linejoin="round"/>
<path d="M500.9,217.9 C499.8,220 499.3,223 498.8,227.5 L497.6,236 L492,254.4 C491.2,256.6 489.5,257.6 487.8,256.3" stroke="#101010" stroke-width="1.30" fill="none" stroke-linejoin="round"/>
<path d="M442.9,275 L442.9,301 L481.8,301 L481.8,275" stroke="#101010" stroke-width="1.17" fill="none" stroke-linejoin="round"/>
<path d="M450.4,275 L455.4,288.5 L455.4,297 C455.6,298.6 456.5,299.6 458,299.8 L466.6,299.8 C468,299.6 468.9,298.6 469.1,297 L469.1,288.5 L473.8,275" stroke="#101010" stroke-width="1.30" fill="none" stroke-linejoin="round"/>
<line x1="457.6" y1="300.3" x2="467" y2="300.3" stroke="#101010" stroke-width="1.56"/>
<circle cx="462.2" cy="291.2" r="3.9" stroke="#101010" stroke-width="1.43" fill="none"/>
<path d="M459.5,290 Q462.2,286.2 464.9,290" stroke="#101010" stroke-width="0.78" fill="none" stroke-linejoin="round"/>
<line x1="462.2" y1="199.5" x2="462.2" y2="303.5" stroke="#101010" stroke-width="0.94" stroke-dasharray="7 1.6 1.6 1.6"/>
<line x1="436.3" y1="188.2" x2="436.3" y2="214" stroke="#101010" stroke-width="0.81"/>
<line x1="487.8" y1="188.2" x2="487.8" y2="214" stroke="#101010" stroke-width="0.81"/>
<line x1="436.3" y1="189.5" x2="452.4" y2="189.5" stroke="#101010" stroke-width="0.81"/>
<line x1="472.1" y1="189.5" x2="487.8" y2="189.5" stroke="#101010" stroke-width="0.81"/>
<polygon points="436.30,189.50 440.00,188.60 440.00,190.40" fill="#101010"/>
<polygon points="487.80,189.50 484.10,190.40 484.10,188.60" fill="#101010"/>
<text x="452.9" y="192.2" font-size="7.4" fill="#101010" xml:space="preserve" textLength="18.70" lengthAdjust="spacingAndGlyphs">17.40</text>
<line x1="404.3" y1="214.3" x2="423" y2="214.3" stroke="#101010" stroke-width="0.81"/>
<line x1="404.3" y1="223.8" x2="416" y2="223.8" stroke="#101010" stroke-width="0.81"/>
<line x1="404.8" y1="210" x2="404.8" y2="223.8" stroke="#101010" stroke-width="0.81"/>
<polygon points="404.80,214.30 403.90,210.60 405.70,210.60" fill="#101010"/>
<polygon points="404.80,223.80 405.70,227.50 403.90,227.50" fill="#101010"/>
<text x="0" y="0" font-size="7.4" fill="#101010" xml:space="preserve" textLength="10.70" lengthAdjust="spacingAndGlyphs" transform="translate(407.4492 209.7) rotate(-90)">3.0</text>
<path d="M591.1,219.5 L643.5,219.5 L643.5,237.3 L655.6,237.3 L655.6,266.6 L630.3,266.6 L630.3,283.8 L604.3,283.8 L604.3,266.6 L578.6,266.6 L578.6,237.3 L591.1,237.3 Z" stroke="#101010" stroke-width="1.33" fill="none" stroke-linejoin="miter"/>
<line x1="617.4" y1="213.5" x2="617.4" y2="291" stroke="#101010" stroke-width="0.94" stroke-dasharray="7 1.6 1.6 1.6"/>
<line x1="578.6" y1="188" x2="578.6" y2="237.3" stroke="#101010" stroke-width="0.81"/>
<line x1="655.6" y1="188" x2="655.6" y2="237.3" stroke="#101010" stroke-width="0.81"/>
<line x1="578.6" y1="189.5" x2="604.4" y2="189.5" stroke="#101010" stroke-width="0.81"/>
<line x1="630.4" y1="189.5" x2="655.6" y2="189.5" stroke="#101010" stroke-width="0.81"/>
<polygon points="578.60,189.50 582.30,188.60 582.30,190.40" fill="#101010"/>
<polygon points="655.60,189.50 651.90,190.40 651.90,188.60" fill="#101010"/>
<text x="604.9" y="192.2" font-size="7.4" fill="#101010" xml:space="preserve" textLength="25.00" lengthAdjust="spacingAndGlyphs">26.000</text>
<line x1="591.1" y1="203.4" x2="591.1" y2="219.5" stroke="#101010" stroke-width="0.81"/>
<line x1="643.5" y1="203.4" x2="643.5" y2="219.5" stroke="#101010" stroke-width="0.81"/>
<line x1="591.1" y1="204.8" x2="604.4" y2="204.8" stroke="#101010" stroke-width="0.81"/>
<line x1="629.5" y1="204.8" x2="643.5" y2="204.8" stroke="#101010" stroke-width="0.81"/>
<polygon points="591.10,204.80 594.80,203.90 594.80,205.70" fill="#101010"/>
<polygon points="643.50,204.80 639.80,205.70 639.80,203.90" fill="#101010"/>
<text x="604.9" y="207.5" font-size="7.4" fill="#101010" xml:space="preserve" textLength="24.10" lengthAdjust="spacingAndGlyphs">17.700</text>
<line x1="559.6" y1="219.5" x2="591.1" y2="219.5" stroke="#101010" stroke-width="0.81"/>
<line x1="559.6" y1="283.8" x2="604.3" y2="283.8" stroke="#101010" stroke-width="0.81"/>
<line x1="560.5" y1="219.5" x2="560.5" y2="239.2" stroke="#101010" stroke-width="0.81"/>
<line x1="560.5" y1="263.8" x2="560.5" y2="283.8" stroke="#101010" stroke-width="0.81"/>
<polygon points="560.50,219.50 561.40,223.20 559.60,223.20" fill="#101010"/>
<polygon points="560.50,283.80 559.60,280.10 561.40,280.10" fill="#101010"/>
<text x="0" y="0" font-size="7.4" fill="#101010" xml:space="preserve" textLength="23.60" lengthAdjust="spacingAndGlyphs" transform="translate(563.3492 263.3) rotate(-90)">21.900</text>
<line x1="643.5" y1="219.5" x2="685" y2="219.5" stroke="#101010" stroke-width="0.81"/>
<line x1="655.6" y1="266.6" x2="685" y2="266.6" stroke="#101010" stroke-width="0.81"/>
<line x1="684" y1="219.5" x2="684" y2="231.4" stroke="#101010" stroke-width="0.81"/>
<line x1="684" y1="254.3" x2="684" y2="266.6" stroke="#101010" stroke-width="0.81"/>
<polygon points="684.00,219.50 684.90,223.20 683.10,223.20" fill="#101010"/>
<polygon points="684.00,266.60 683.10,262.90 684.90,262.90" fill="#101010"/>
<text x="0" y="0" font-size="7.4" fill="#101010" xml:space="preserve" textLength="21.90" lengthAdjust="spacingAndGlyphs" transform="translate(686.8492 253.8) rotate(-90)">16.150</text>
<line x1="655.6" y1="237.3" x2="669.4" y2="237.3" stroke="#101010" stroke-width="0.81"/>
<line x1="668.5" y1="229" x2="668.5" y2="237.3" stroke="#101010" stroke-width="0.81"/>
<polygon points="668.50,237.30 667.60,233.60 669.40,233.60" fill="#101010"/>
<line x1="668.5" y1="266.6" x2="668.5" y2="274.8" stroke="#101010" stroke-width="0.81"/>
<polygon points="668.50,266.60 669.40,270.30 667.60,270.30" fill="#101010"/>
<text x="0" y="0" font-size="7.4" fill="#101010" xml:space="preserve" textLength="22.50" lengthAdjust="spacingAndGlyphs" transform="translate(671.0491999999999 263) rotate(-90)">10.100</text>
<line x1="604.3" y1="283.8" x2="604.3" y2="302" stroke="#101010" stroke-width="0.81"/>
<line x1="630.3" y1="283.8" x2="630.3" y2="302" stroke="#101010" stroke-width="0.81"/>
<line x1="596" y1="301" x2="604.3" y2="301" stroke="#101010" stroke-width="0.81"/>
<polygon points="604.30,301.00 600.60,301.90 600.60,300.10" fill="#101010"/>
<line x1="630.3" y1="301" x2="638.6" y2="301" stroke="#101010" stroke-width="0.81"/>
<polygon points="630.30,301.00 634.00,300.10 634.00,301.90" fill="#101010"/>
<text x="606.7" y="303.7" font-size="7.4" fill="#101010" xml:space="preserve" textLength="20.70" lengthAdjust="spacingAndGlyphs">8.900</text>
<text x="582.6" y="320.9" font-size="8.4" fill="#101010" xml:space="preserve" textLength="67.80" lengthAdjust="spacingAndGlyphs">PANEL  CUT-OUT</text>
<line x1="582.3" y1="322" x2="650.6" y2="322" stroke="#101010" stroke-width="0.91"/>
<text x="580.2" y="330.2" font-size="8.4" fill="#101010" xml:space="preserve" textLength="74.00" lengthAdjust="spacingAndGlyphs">THICKNESS: 2.0mm</text>
<path d="M94.3,384.4 L94.3,362.4 A3,3 0 0 1 97.3,359.4 L171.6,359.4 A3,3 0 0 1 174.6,362.4 L174.6,384.4" stroke="#101010" stroke-width="1.30" fill="none" stroke-linejoin="round"/>
<path d="M94.3,413.8 L94.3,436.6 A2,2 0 0 0 96.3,438.6 L172.5,438.6 A2,2 0 0 0 174.5,436.6 L174.5,413.8" stroke="#101010" stroke-width="1.30" fill="none" stroke-linejoin="round"/>
<path d="M108.3,414 L108.3,367.5 L160.2,367.5 L160.2,414" stroke="#101010" stroke-width="1.30" fill="none" stroke-linejoin="round"/>
<path d="M116.6,367.3 Q117.4,365.6 118.2,367.3 M150.7,367.3 Q151.5,365.6 152.3,367.3" stroke="#101010" stroke-width="1.17" fill="none" stroke-linejoin="round"/>
<line x1="88.6" y1="384.4" x2="108.3" y2="384.4" stroke="#101010" stroke-width="1.17"/>
<line x1="88.6" y1="413.8" x2="108.3" y2="413.8" stroke="#101010" stroke-width="1.17"/>
<line x1="88.6" y1="384.4" x2="88.6" y2="413.8" stroke="#101010" stroke-width="1.17"/>
<line x1="91.8" y1="384.4" x2="91.8" y2="413.8" stroke="#101010" stroke-width="1.17"/>
<line x1="102.4" y1="384.4" x2="102.4" y2="413.8" stroke="#101010" stroke-width="1.17"/>
<line x1="160.2" y1="384.4" x2="180.8" y2="384.4" stroke="#101010" stroke-width="1.17"/>
<line x1="160.2" y1="413.8" x2="180.8" y2="413.8" stroke="#101010" stroke-width="1.17"/>
<line x1="166.5" y1="384.4" x2="166.5" y2="413.8" stroke="#101010" stroke-width="1.17"/>
<line x1="176.6" y1="384.4" x2="176.6" y2="413.8" stroke="#101010" stroke-width="1.17"/>
<line x1="180.8" y1="384.4" x2="180.8" y2="413.8" stroke="#101010" stroke-width="1.17"/>
<path d="M100.3,414 L100.3,433.9 L121.7,433.9 L121.7,414 Z" stroke="#101010" stroke-width="1.17" fill="none" stroke-linejoin="round"/>
<path d="M147.7,414 L147.7,433.9 L169.4,433.9 L169.4,414 Z" stroke="#101010" stroke-width="1.17" fill="none" stroke-linejoin="round"/>
<line x1="121.7" y1="430.2" x2="147.7" y2="430.2" stroke="#101010" stroke-width="1.17"/>
<line x1="94.3" y1="413.9" x2="121.7" y2="413.9" stroke="#101010" stroke-width="1.17"/>
<line x1="147.7" y1="413.9" x2="174.6" y2="413.9" stroke="#101010" stroke-width="1.17"/>
<rect x="118.40" y="370.10" width="4.30" height="29.80" stroke="#101010" stroke-width="1.04" fill="#8c8c8c"/>
<line x1="118.4" y1="372" x2="122.7" y2="372" stroke="#101010" stroke-width="0.65"/>
<line x1="118.4" y1="397.6" x2="122.7" y2="397.6" stroke="#101010" stroke-width="0.65"/>
<rect x="119.80" y="374.40" width="6.70" height="20.40" stroke="#101010" stroke-width="1.17" fill="#fff"/>
<rect x="120.40" y="380.50" width="4.20" height="8.50" stroke="#101010" stroke-width="1.04" fill="#777"/>
<rect x="122.00" y="382.60" width="1.00" height="4.40" stroke="#101010" stroke-width="0.65" fill="#222"/>
<rect x="145.60" y="370.10" width="4.80" height="29.80" stroke="#101010" stroke-width="1.04" fill="#8c8c8c"/>
<line x1="145.6" y1="372" x2="150.4" y2="372" stroke="#101010" stroke-width="0.65"/>
<line x1="145.6" y1="397.6" x2="150.4" y2="397.6" stroke="#101010" stroke-width="0.65"/>
<rect x="142.40" y="374.40" width="6.70" height="20.40" stroke="#101010" stroke-width="1.17" fill="#fff"/>
<rect x="144.20" y="380.50" width="4.30" height="8.50" stroke="#101010" stroke-width="1.04" fill="#777"/>
<rect x="145.85" y="382.60" width="1.00" height="4.40" stroke="#101010" stroke-width="0.65" fill="#222"/>
<path d="M126.2,401.8 C128.2,401.2 129.3,400.4 129.3,398.6 L129.3,373.4 L139.6,373.4 L139.6,398.6 C139.6,400.4 140.6,401.2 142.6,401.8" stroke="#101010" stroke-width="1.17" fill="none" stroke-linejoin="round"/>
<text x="0" y="0" font-size="5.2" fill="#101010" xml:space="preserve" textLength="4.60" lengthAdjust="spacingAndGlyphs" font-weight="bold" transform="translate(157 387.6) rotate(-90)">W</text>
<path d="M115.2,406.3 L115.2,401.7 L126.2,401.7 L130,399.9 L138.6,399.9 L141.8,401.7 L154,401.7 L154,406.3" stroke="#101010" stroke-width="0.91" fill="none" stroke-linejoin="round"/>
<path d="M115.2,404.3 L127,404.3 L130.8,402.5 L138,402.5 L141.2,404.3 L154,404.3" stroke="#101010" stroke-width="0.78" fill="none" stroke-linejoin="round"/>
<line x1="117" y1="406.7" x2="152.4" y2="406.7" stroke="#101010" stroke-width="1.30"/>
<circle cx="113.9" cy="408.6" r="2.9" stroke="#101010" stroke-width="1.10" fill="#fff"/>
<circle cx="154.8" cy="408.6" r="2.9" stroke="#101010" stroke-width="1.10" fill="#fff"/>
<rect x="119.60" y="407.00" width="3.80" height="1.80" stroke="#101010" stroke-width="0.52" fill="#333"/>
<rect x="145.00" y="407.00" width="3.80" height="1.80" stroke="#101010" stroke-width="0.52" fill="#333"/>
<path d="M123.2,407.2 L145.3,407.2 L141.6,416.2 L141.6,423.4 C141.5,425 140.6,425.9 139,426 L130,426 C128.5,425.9 127.7,425 127.6,423.4 L127.6,416.2 Z" stroke="#101010" stroke-width="1.69" fill="none" stroke-linejoin="round"/>
<line x1="130" y1="427.2" x2="139.2" y2="427.2" stroke="#101010" stroke-width="0.91"/>
<path d="M122.4,409 L126.4,417.2 M146.1,409 L142.8,417.2" stroke="#101010" stroke-width="0.78" fill="none" stroke-linejoin="round"/>
<ellipse cx="134.6" cy="418.8" rx="4.4" ry="3.8" stroke="#101010" stroke-width="1.56" fill="none"/>
<path d="M131.8,418.6 Q134.6,413.6 137.4,418.6" stroke="#101010" stroke-width="0.78" fill="none" stroke-linejoin="round"/>
<text x="0" y="0" font-size="4.2" fill="#222" xml:space="preserve" textLength="12.80" lengthAdjust="spacingAndGlyphs" font-weight="bold" transform="translate(126.3 430) rotate(-90)">8888</text>
<rect x="142.60" y="418.40" width="2.20" height="4.10" stroke="#101010" stroke-width="0.65" fill="none"/>
<line x1="134.4" y1="353.8" x2="134.4" y2="447.6" stroke="#101010" stroke-width="0.94" stroke-dasharray="7 1.6 1.6 1.6"/>
<line x1="75.5" y1="384.4" x2="88.6" y2="384.4" stroke="#101010" stroke-width="0.81"/>
<line x1="75.5" y1="413.8" x2="88.6" y2="413.8" stroke="#101010" stroke-width="0.81"/>
<line x1="76.5" y1="384.4" x2="76.5" y2="391.4" stroke="#101010" stroke-width="0.81"/>
<line x1="76.5" y1="407.4" x2="76.5" y2="413.8" stroke="#101010" stroke-width="0.81"/>
<polygon points="76.50,384.40 77.40,388.10 75.60,388.10" fill="#101010"/>
<polygon points="76.50,413.80 75.60,410.10 77.40,410.10" fill="#101010"/>
<text x="0" y="0" font-size="7.4" fill="#101010" xml:space="preserve" textLength="15.00" lengthAdjust="spacingAndGlyphs" transform="translate(79.0492 406.9) rotate(-90)">9.80</text>
<line x1="121.7" y1="433.9" x2="121.7" y2="457" stroke="#101010" stroke-width="0.81"/>
<line x1="147.7" y1="433.9" x2="147.7" y2="457" stroke="#101010" stroke-width="0.81"/>
<line x1="113.4" y1="455.4" x2="121.7" y2="455.4" stroke="#101010" stroke-width="0.81"/>
<polygon points="121.70,455.40 118.00,456.30 118.00,454.50" fill="#101010"/>
<line x1="147.7" y1="455.4" x2="155.5" y2="455.4" stroke="#101010" stroke-width="0.81"/>
<polygon points="147.70,455.40 151.40,454.50 151.40,456.30" fill="#101010"/>
<text x="126.6" y="458.2" font-size="7.4" fill="#101010" xml:space="preserve" textLength="15.60" lengthAdjust="spacingAndGlyphs">8.60</text>
</svg>
</body></html>
